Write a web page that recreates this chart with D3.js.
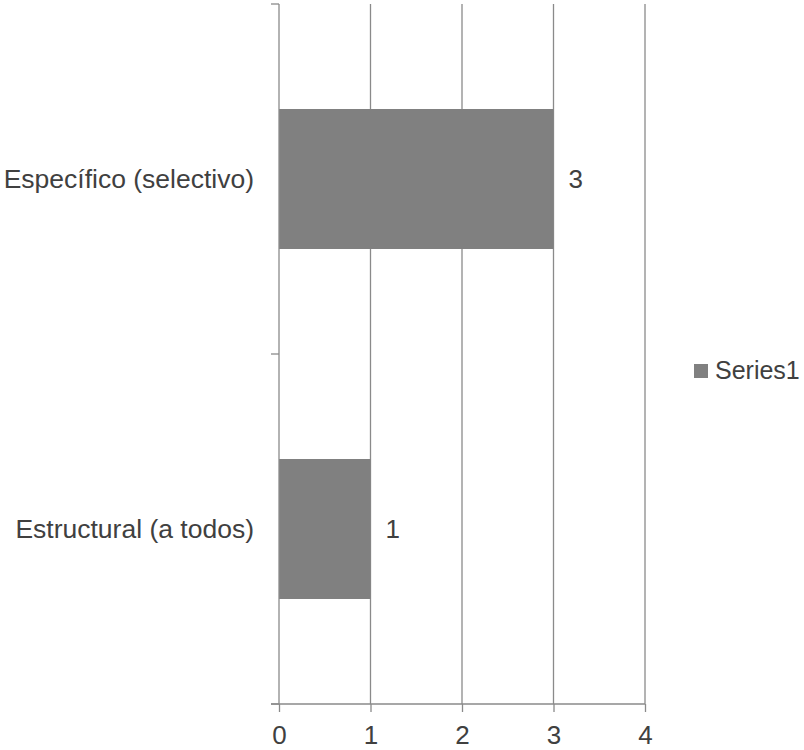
<!DOCTYPE html>
<html>
<head>
<meta charset="utf-8">
<script src="https://cdn.jsdelivr.net/npm/d3@7"></script>
<style>
  html, body { margin: 0; padding: 0; background: #fff; }
  svg { display: block; }
  text { font-family: "Liberation Sans", Arial, sans-serif; fill: #404040; }
</style>
</head>
<body>
<svg id="chart" width="804" height="750"></svg>
<script>
// Data
const categories = ["Estructural (a todos)", "Específico (selectivo)"];
const seriesName = "Series1";
const seriesValues = [1, 3];
const xTicks = [0, 1, 2, 3, 4];

const W = 804, H = 750;
const plot = { left: 279, right: 645, top: 4, bottom: 704 };
const fontSize = 26;
const gridColor = "#8a8a8a";
const barColor = "#808080";

const svg = d3.select("#chart");

const x = d3.scaleLinear().domain([0, 4]).range([plot.left, plot.right]);
const y = d3.scaleBand().domain(categories).range([plot.bottom, plot.top])
  .paddingInner(0.6).paddingOuter(0.3);

// vertical gridlines
svg.append("g").selectAll("line").data(xTicks.filter(d => d > 0)).join("line")
  .attr("x1", d => x(d)).attr("x2", d => x(d))
  .attr("y1", plot.top).attr("y2", plot.bottom)
  .attr("stroke", gridColor).attr("stroke-width", 1.3);

// bars
const data = categories.map((c, i) => ({ c, v: seriesValues[i] }));
svg.append("g").selectAll("rect").data(data).join("rect")
  .attr("x", x(0)).attr("y", d => y(d.c))
  .attr("width", d => x(d.v) - x(0)).attr("height", y.bandwidth())
  .attr("fill", barColor);

// data labels
svg.append("g").selectAll("text").data(data).join("text")
  .attr("x", d => x(d.v) + 15)
  .attr("y", d => y(d.c) + y.bandwidth() / 2)
  .attr("dy", "0.35em")
  .attr("font-size", fontSize)
  .text(d => d.v);

// x axis
const xAxis = d3.axisBottom(x).tickValues(xTicks).tickSize(8).tickPadding(14)
  .tickFormat(d3.format("d"));
const gx = svg.append("g").attr("transform", `translate(0,${plot.bottom})`).call(xAxis);
gx.select(".domain").remove();
gx.append("line").attr("x1", plot.left - 8).attr("x2", plot.right)
  .attr("y1", 0).attr("y2", 0).attr("stroke", gridColor).attr("stroke-width", 1.3);
gx.selectAll(".tick line").attr("stroke", gridColor).attr("stroke-width", 1.3);
gx.selectAll(".tick text").attr("font-size", fontSize)
  .attr("font-family", "Liberation Sans, Arial, sans-serif").attr("fill", "#404040");

// y axis line + boundary ticks
svg.append("line").attr("x1", plot.left).attr("x2", plot.left)
  .attr("y1", plot.top).attr("y2", plot.bottom)
  .attr("stroke", gridColor).attr("stroke-width", 1.3);
const step = y.step();
const boundaries = [plot.bottom, plot.bottom - step, plot.bottom - 2 * step];
svg.append("g").selectAll("line").data(boundaries).join("line")
  .attr("x1", plot.left - 8).attr("x2", plot.left)
  .attr("y1", d => d).attr("y2", d => d)
  .attr("stroke", gridColor).attr("stroke-width", 1.3);

// category labels
svg.append("g").selectAll("text").data(categories).join("text")
  .attr("x", 254)
  .attr("y", d => y(d) + y.bandwidth() / 2)
  .attr("dy", "0.35em")
  .attr("text-anchor", "end")
  .attr("font-size", 26.5)
  .text(d => d);

// legend
const lg = svg.append("g").attr("transform", "translate(694,364)");
lg.append("rect").attr("x", 0).attr("y", 0).attr("width", 14).attr("height", 14)
  .attr("fill", barColor);
lg.append("text").attr("x", 21).attr("y", 15).attr("font-size", 25).text(seriesName);
</script>
</body>
</html>
